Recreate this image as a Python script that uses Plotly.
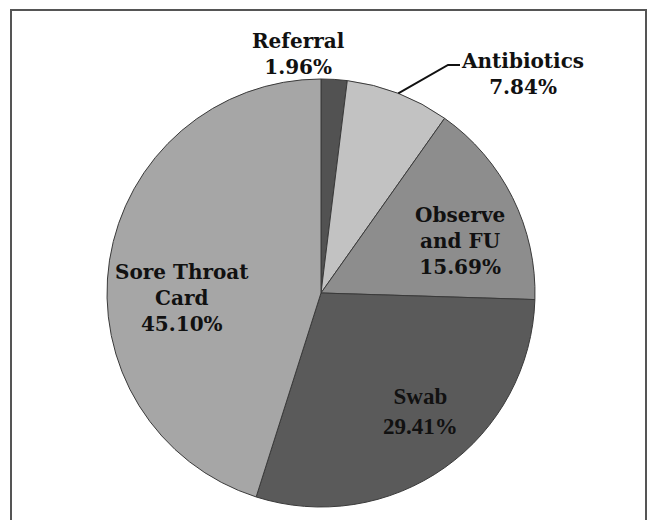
import math
import plotly.graph_objects as go

# ---- data ----
categories = ["Referral", "Antibiotics", "Observe and FU", "Swab", "Sore Throat Card"]
values = [1.96, 7.84, 15.69, 29.41, 45.10]
label_lines = [["Referral", "1.96%"], ["Antibiotics", "7.84%"], ["Observe", "and FU", "15.69%"],
               ["Swab", "29.41%"], ["Sore Throat", "Card", "45.10%"]]
colors = ["#525252", "#c2c2c2", "#8d8d8d", "#5a5a5a", "#a6a6a6"]

W, H = 649, 520
CX, CY, R = 321, 293, 214


def px(x):
    return x / W


def py(y):
    return (H - y) / H


fig = go.Figure(go.Pie(
    labels=categories, values=values, sort=False, direction="clockwise", rotation=0,
    marker=dict(colors=colors, line=dict(color="#3a3a3a", width=1)),
    textinfo="none", hoverinfo="label+percent", showlegend=False,
    domain=dict(x=[px(CX - R), px(CX + R)], y=[py(CY + R), py(CY - R)]),
))

# label anchor positions (pixel centres of each label block)
label_pos = [(298, 54), (522, 74), (460, 241), (420, 411), (182, 298)]
label_font = [("DejaVu Serif", 20)] * 3 + [("Liberation Serif", 23), ("DejaVu Serif", 20)]

annotations = []
for lines, (lx, ly), (fam, sz) in zip(label_lines, label_pos, label_font):
    annotations.append(dict(
        x=px(lx), y=py(ly), xref="paper", yref="paper", showarrow=False,
        xanchor="center", yanchor="middle",
        text="<br>".join(f"<b>{t}</b>" for t in lines),
        font=dict(family=fam, size=sz, color="#111111"), align="center",
    ))

# leader line for Antibiotics computed from the slice's mid-angle
total = sum(values)
mid = (values[0] + values[1] / 2) / total * 2 * math.pi
ex, ey = CX + R * math.sin(mid), CY - R * math.cos(mid)
bx, by = 448, 65
tx = 460
path = f"M {px(ex)} {py(ey)} L {px(bx)} {py(by)} L {px(tx)} {py(by)}"

shapes = [
    dict(type="path", path=path, xref="paper", yref="paper", line=dict(color="#111111", width=2)),
    dict(type="rect", xref="paper", yref="paper", x0=px(11), x1=px(646), y0=-0.1, y1=py(10),
         line=dict(color="#555555", width=2), fillcolor="rgba(0,0,0,0)"),
]

fig.update_layout(
    width=W, height=H, margin=dict(l=0, r=0, t=0, b=0),
    paper_bgcolor="white", plot_bgcolor="white",
    annotations=annotations, shapes=shapes,
)

fig.write_html("out.html")
